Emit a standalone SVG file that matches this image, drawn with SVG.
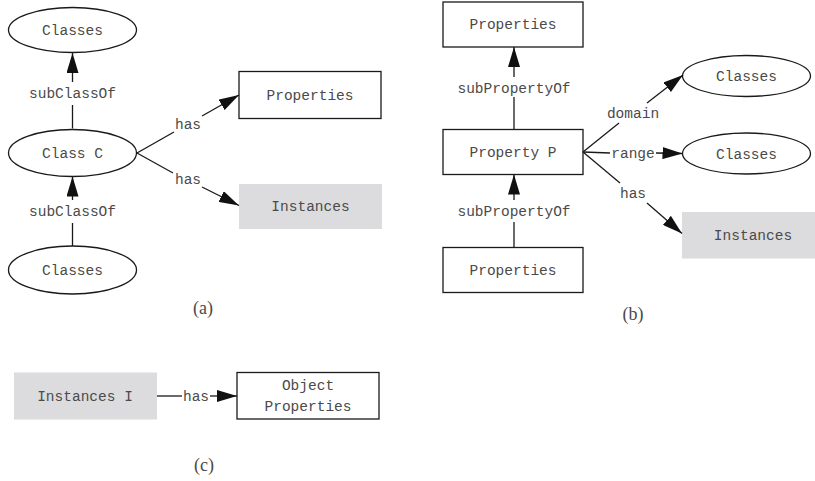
<svg xmlns="http://www.w3.org/2000/svg" width="815" height="481" viewBox="0 0 815 481">
  <style>
    .node { fill: #ffffff; stroke: #1a1a1a; stroke-width: 1.3; }
    .inst { fill: #dcdcde; stroke: none; }
    .t { font-family: "Liberation Mono", "DejaVu Sans Mono", monospace; font-size: 14.5px; fill: #4a4a4a; text-anchor: middle; }
    .cap { font-family: "Liberation Serif", "DejaVu Serif", serif; font-size: 18px; fill: #4a4a4a; text-anchor: middle; }
    .edge { stroke: #1a1a1a; stroke-width: 1.3; fill: none; }
  </style>
  <defs>
    <marker id="arrow" markerUnits="userSpaceOnUse" markerWidth="20" markerHeight="12" refX="20" refY="6" orient="auto">
      <path d="M0,0 L20,6 L0,12 z" fill="#111111"/>
    </marker>
  </defs>

  <rect width="815" height="481" fill="#ffffff"/>

  <!-- (a) class hierarchy -->
  <g id="a-classes-top">
    <ellipse class="node" cx="72.5" cy="30" rx="64" ry="22.5"/>
    <text class="t" x="72.5" y="35">Classes</text>
  </g>
  <g id="a-class-c">
    <ellipse class="node" cx="72.5" cy="153" rx="64" ry="23.5"/>
    <text class="t" x="72.5" y="158">Class C</text>
  </g>
  <g id="a-classes-bottom">
    <ellipse class="node" cx="72.5" cy="270" rx="64" ry="24"/>
    <text class="t" x="72.5" y="275">Classes</text>
  </g>
  <g id="a-properties">
    <rect class="node" x="239" y="71.5" width="142" height="47"/>
    <text class="t" x="310" y="100">Properties</text>
  </g>
  <g id="a-instances">
    <rect class="inst" x="239" y="184" width="143" height="45"/>
    <text class="t" x="310.5" y="211">Instances</text>
  </g>

  <!-- (b) property hierarchy -->
  <g id="b-properties-top">
    <rect class="node" x="443" y="2" width="140" height="45"/>
    <text class="t" x="513" y="29">Properties</text>
  </g>
  <g id="b-property-p">
    <rect class="node" x="443" y="129.5" width="140" height="45"/>
    <text class="t" x="513" y="157">Property P</text>
  </g>
  <g id="b-properties-bottom">
    <rect class="node" x="443" y="247.5" width="140" height="45"/>
    <text class="t" x="513" y="275">Properties</text>
  </g>
  <g id="b-classes-domain">
    <ellipse class="node" cx="746.5" cy="76" rx="64" ry="20.5"/>
    <text class="t" x="746.5" y="81">Classes</text>
  </g>
  <g id="b-classes-range">
    <ellipse class="node" cx="746.5" cy="153.5" rx="64" ry="20.5"/>
    <text class="t" x="746.5" y="158.5">Classes</text>
  </g>
  <g id="b-instances">
    <rect class="inst" x="682" y="212" width="133" height="46.5"/>
    <text class="t" x="753" y="240">Instances</text>
  </g>

  <!-- (c) instance -->
  <g id="c-instances-i">
    <rect class="inst" x="14" y="372.5" width="143" height="47"/>
    <text class="t" x="85" y="401">Instances I</text>
  </g>
  <g id="c-object-properties">
    <rect class="node" x="237" y="372.5" width="142" height="46.5"/>
    <text class="t" x="308" y="390">Object</text>
    <text class="t" x="308" y="411">Properties</text>
  </g>

  <!-- connectors -->
  <g id="connectors">
    <!-- (a) -->
    <line class="edge" x1="72.5" y1="128.5" x2="72.5" y2="105"/>
    <line class="edge" x1="72.5" y1="82" x2="72.5" y2="53" marker-end="url(#arrow)"/>
    <text class="t" x="72.5" y="98">subClassOf</text>

    <line class="edge" x1="72.5" y1="246" x2="72.5" y2="223"/>
    <line class="edge" x1="72.5" y1="200" x2="72.5" y2="176.5" marker-end="url(#arrow)"/>
    <text class="t" x="72.5" y="216">subClassOf</text>

    <line class="edge" x1="137" y1="153" x2="174" y2="132"/>
    <line class="edge" x1="202" y1="116" x2="239" y2="95" marker-end="url(#arrow)"/>
    <text class="t" x="188" y="129">has</text>

    <line class="edge" x1="137" y1="153" x2="173" y2="173"/>
    <line class="edge" x1="202" y1="187" x2="239" y2="205.5" marker-end="url(#arrow)"/>
    <text class="t" x="188" y="184">has</text>

    <!-- (b) -->
    <line class="edge" x1="514" y1="129.5" x2="514" y2="97"/>
    <line class="edge" x1="514" y1="77" x2="514" y2="47" marker-end="url(#arrow)"/>
    <text class="t" x="514" y="93">subPropertyOf</text>

    <line class="edge" x1="514" y1="247.5" x2="514" y2="222"/>
    <line class="edge" x1="514" y1="200" x2="514" y2="174.5" marker-end="url(#arrow)"/>
    <text class="t" x="514" y="216">subPropertyOf</text>

    <line class="edge" x1="583" y1="152" x2="619" y2="123"/>
    <line class="edge" x1="647" y1="103" x2="683" y2="75" marker-end="url(#arrow)"/>
    <text class="t" x="633" y="118">domain</text>

    <line class="edge" x1="583" y1="152" x2="610" y2="153"/>
    <line class="edge" x1="656" y1="153" x2="682.5" y2="153.5" marker-end="url(#arrow)"/>
    <text class="t" x="633" y="158">range</text>

    <line class="edge" x1="583" y1="152" x2="620" y2="183"/>
    <line class="edge" x1="647" y1="203" x2="682" y2="233.5" marker-end="url(#arrow)"/>
    <text class="t" x="633" y="198">has</text>

    <!-- (c) -->
    <line class="edge" x1="157" y1="396" x2="182" y2="396"/>
    <line class="edge" x1="210" y1="396" x2="237" y2="396" marker-end="url(#arrow)"/>
    <text class="t" x="196" y="401">has</text>
  </g>

  <!-- panel captions -->
  <text class="cap" x="203" y="314">(a)</text>
  <text class="cap" x="633" y="320">(b)</text>
  <text class="cap" x="204" y="471">(c)</text>
</svg>
